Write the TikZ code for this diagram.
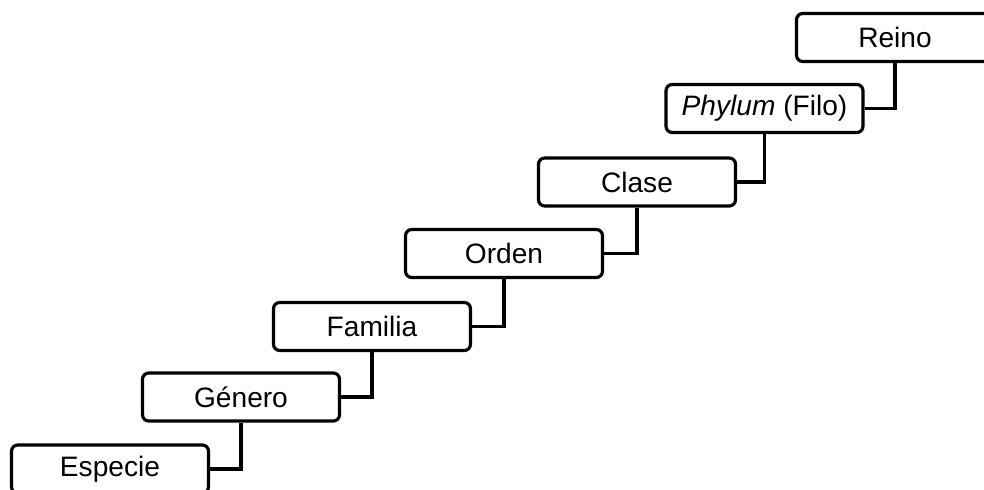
\documentclass[tikz,border=0pt]{standalone}
\usepackage{fontspec}
\setmainfont{Liberation Sans}
\begin{document}
\begin{tikzpicture}[x=0.02cm,y=-0.02cm]
\tikzset{rango/.style={draw=black,line width=1.8pt,rounded corners=3.5pt,
  minimum width=3.94cm,minimum height=0.96cm,inner sep=0pt,font=\fontsize{16}{19}\selectfont},
  enlace/.style={draw=black,line width=1.8pt}}
\useasboundingbox (0,0) rectangle (984,490);
\node [rango] (reino) at (895,37.5) {Reino};
\node [rango] (filo) at (764.5,108.5) {\textit{Phylum} (Filo)};
\node [rango] (clase) at (637,182) {Clase};
\node [rango] (orden) at (504,253.5) {Orden};
\node [rango] (familia) at (372,326.5) {Familia};
\node [rango] (genero) at (241,397) {Género};
\node [rango] (especie) at (110,469) {Especie};
\draw [enlace] (reino.south) |- (filo.east);
\draw [enlace] (filo.south) |- (clase.east);
\draw [enlace] (clase.south) |- (orden.east);
\draw [enlace] (orden.south) |- (familia.east);
\draw [enlace] (familia.south) |- (genero.east);
\draw [enlace] (genero.south) |- (especie.east);
\end{tikzpicture}
\end{document}
